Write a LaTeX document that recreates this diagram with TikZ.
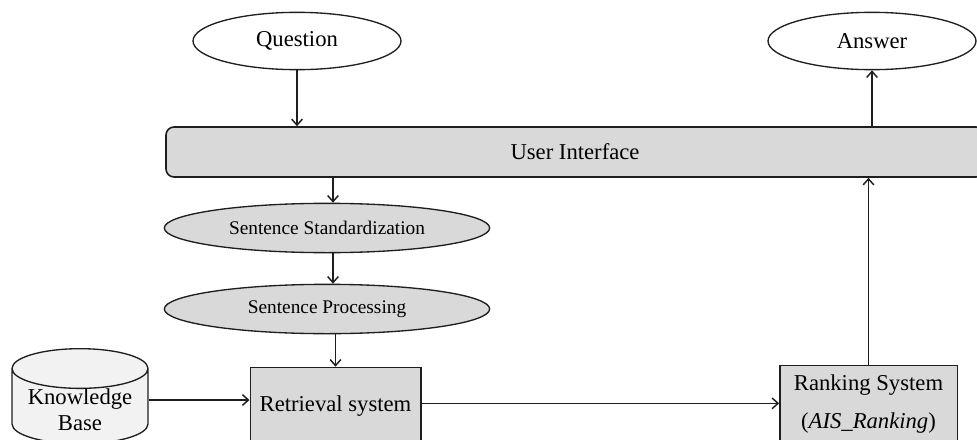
\documentclass[tikz,border=0pt]{standalone}
\usepackage{fontspec}
\setmainfont{Liberation Serif}
\usepackage{xcolor}
\usetikzlibrary{positioning, arrows.meta, shapes.geometric}

\definecolor{boxgray}{HTML}{D9D9D9}
\definecolor{dbgray}{HTML}{F2F2F2}
\definecolor{inkgray}{HTML}{1E1E1E}

\tikzset{
  io/.style={ellipse, draw=inkgray, line width=1pt, inner sep=0pt,
    minimum width=156pt, minimum height=43pt, font=\fontsize{17}{20}\selectfont},
  stage/.style={ellipse, draw=inkgray, line width=1pt, fill=boxgray, inner sep=0pt,
    minimum width=244pt, minimum height=37pt, font=\fontsize{14.5}{16}\selectfont},
  sysbox/.style={rectangle, draw=inkgray, line width=1pt, fill=boxgray,
    minimum height=58pt, align=center, font=\fontsize{17}{26}\selectfont},
  link/.style={draw=inkgray, line width=1.1pt, -{Straight Barb[length=4.5pt,width=8pt]}}
}

\begin{document}
\begin{tikzpicture}[x=0.75pt, y=-0.75pt]
\useasboundingbox (0,0) rectangle (977,439);

\node[io] (question) at (297,41) {Question};
\node[io] (answer) at (872,41) {Answer};

\node[rectangle, rounded corners=6pt, draw=inkgray, line width=1.2pt, fill=boxgray,
  minimum width=613.5pt, minimum height=37.5pt, font=\fontsize{17}{20}\selectfont]
  (ui) at (575,152) {User Interface};

\node[stage] (std) at (327,228) {Sentence Standardization};
\node[stage] (proc) at (327,309) {Sentence Processing};

\node[sysbox, minimum width=128pt] (retrieval) at (335.5,406) {Retrieval system};
\node[sysbox, minimum width=133pt] (ranking) at (868.5,404)
  {Ranking System\\[3pt]($\mathit{AIS\_Ranking}$)};

\node[cylinder, shape border rotate=90, aspect=0.35, draw=inkgray, line width=1pt,
  fill=dbgray, minimum width=102pt, inner ysep=0pt, align=center,
  font=\fontsize{17}{19.5}\selectfont] (kb) at (80,410) {Knowledge\\Base};

\draw[link] (question.south) -- (question.south |- ui.north);
\draw[link] (answer.south |- ui.north) -- (answer.south);
\draw[link] ([xshift=4.5pt]std.north |- ui.south) -- ([xshift=4.5pt]std.north);
\draw[link] ([xshift=4.5pt]proc.north |- std.south) -- ([xshift=4.5pt]proc.north);
\draw[link] (retrieval.north |- proc.south) -- (retrieval.north);
\draw[link] ([yshift=4.5pt]retrieval.west -| kb.east) -- ([yshift=4.5pt]retrieval.west);
\draw[link] ([yshift=2pt]retrieval.east) -- ([yshift=2pt]retrieval.east -| ranking.west);
\draw[link] (ranking.north) -- (ranking.north |- ui.south);
\end{tikzpicture}
\end{document}
